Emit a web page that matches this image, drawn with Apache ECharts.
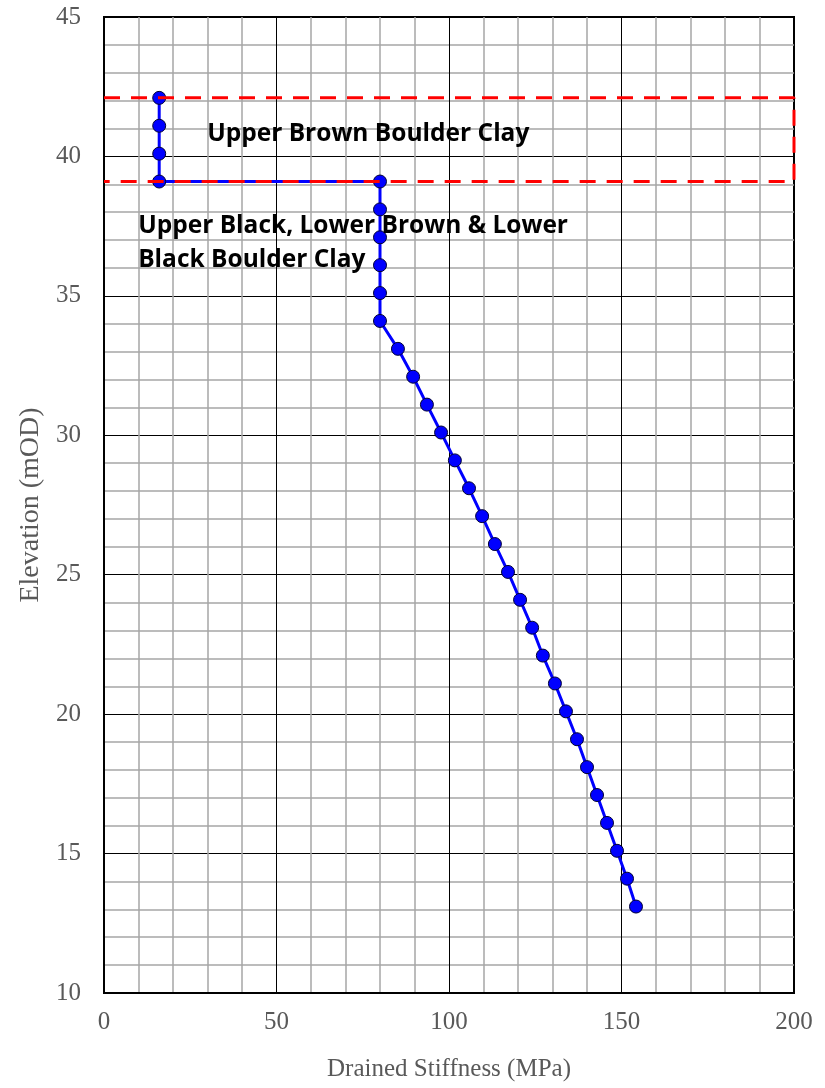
<!DOCTYPE html>
<html>
<head>
<meta charset="utf-8">
<script src="https://cdn.jsdelivr.net/npm/echarts@6/dist/echarts.min.js"></script>
<style>html,body{margin:0;padding:0;background:#fff}#c{width:825px;height:1088px}</style>
</head>
<body>
<div id="c"></div>
<script>
// Data
var stiffness = [16, 16, 16, 16, 80, 80, 80, 80, 80, 80, 85.2, 89.6, 93.6, 97.7, 101.7, 105.8, 109.6, 113.3, 117.1, 120.6, 124.1, 127.2, 130.7, 133.9, 137.1, 140, 142.9, 145.8, 148.7, 151.6, 154.2];
var elevation = [42.1, 41.1, 40.1, 39.1, 39.1, 38.1, 37.1, 36.1, 35.1, 34.1, 33.1, 32.1, 31.1, 30.1, 29.1, 28.1, 27.1, 26.1, 25.1, 24.1, 23.1, 22.1, 21.1, 20.1, 19.1, 18.1, 17.1, 16.1, 15.1, 14.1, 13.1];
var layerTop = 42.1;
var layerBottom = 39.1;
var layerX = [0, 200];
var labelUpper = 'Upper Brown Boulder Clay';
var labelLower = 'Upper Black, Lower Brown & Lower\nBlack Boulder Clay';
var xTitle = 'Drained Stiffness (MPa)';
var yTitle = 'Elevation (mOD)';

var pts = stiffness.map(function (v, i) { return [v, elevation[i]]; });
var boxPts = [[layerX[0], layerTop], [layerX[1], layerTop], [layerX[1], layerBottom], [layerX[0], layerBottom]];

var chart = echarts.init(document.getElementById('c'), null, {renderer: 'canvas'});
var axisFont = {fontFamily: 'Liberation Serif', fontSize: 25, color: '#595959'};
chart.setOption({
  animation: false,
  grid: {left: 104, right: 31, top: 17, bottom: 95, show: true, borderColor: '#000', borderWidth: 2, backgroundColor: 'transparent'},
  xAxis: {
    type: 'value', min: 0, max: 200, interval: 50,
    name: xTitle, nameLocation: 'middle', nameGap: 64,
    nameTextStyle: axisFont,
    axisLabel: Object.assign({margin: 17}, axisFont),
    axisLine: {show: true, lineStyle: {color: '#000', width: 2}},
    axisTick: {show: false},
    splitLine: {show: true, lineStyle: {color: '#000', width: 1}},
    minorTick: {show: false, splitNumber: 5},
    minorSplitLine: {show: true, lineStyle: {color: '#a6a6a6', width: 1.5}}
  },
  yAxis: {
    type: 'value', min: 10, max: 45, interval: 5,
    name: yTitle, nameLocation: 'middle', nameGap: 57, nameRotate: 90,
    nameTextStyle: Object.assign({}, axisFont, {fontSize: 28}),
    axisLabel: Object.assign({margin: 23}, axisFont),
    axisLine: {show: true, lineStyle: {color: '#000', width: 2}},
    axisTick: {show: false},
    splitLine: {show: true, lineStyle: {color: '#000', width: 1}},
    minorTick: {show: false, splitNumber: 5},
    minorSplitLine: {show: true, lineStyle: {color: '#a6a6a6', width: 1.5}}
  },
  series: [
    {
      type: 'line', data: pts, z: 3,
      symbol: 'circle', symbolSize: 13,
      lineStyle: {color: '#0000ff', width: 3},
      itemStyle: {color: '#0000ff', borderColor: '#000033', borderWidth: 1},
      markPoint: {
        symbol: 'circle', symbolSize: 0, silent: true,
        label: {show: true, position: 'right', distance: 0, color: '#000', fontFamily: 'Open Sans', fontWeight: 'bold', fontSize: 24.5, lineHeight: 34},
        data: [
          {coord: [29.9, 40.8], value: 1, label: {formatter: labelUpper}},
          {coord: [9.9, 36.9], value: 2, label: {formatter: labelLower}}
        ]
      }
    },
    {
      type: 'line', data: boxPts, z: 4, symbol: 'none',
      lineStyle: {color: '#ff0000', width: 3, type: [16, 11]}
    }
  ]
});
</script>
</body>
</html>
